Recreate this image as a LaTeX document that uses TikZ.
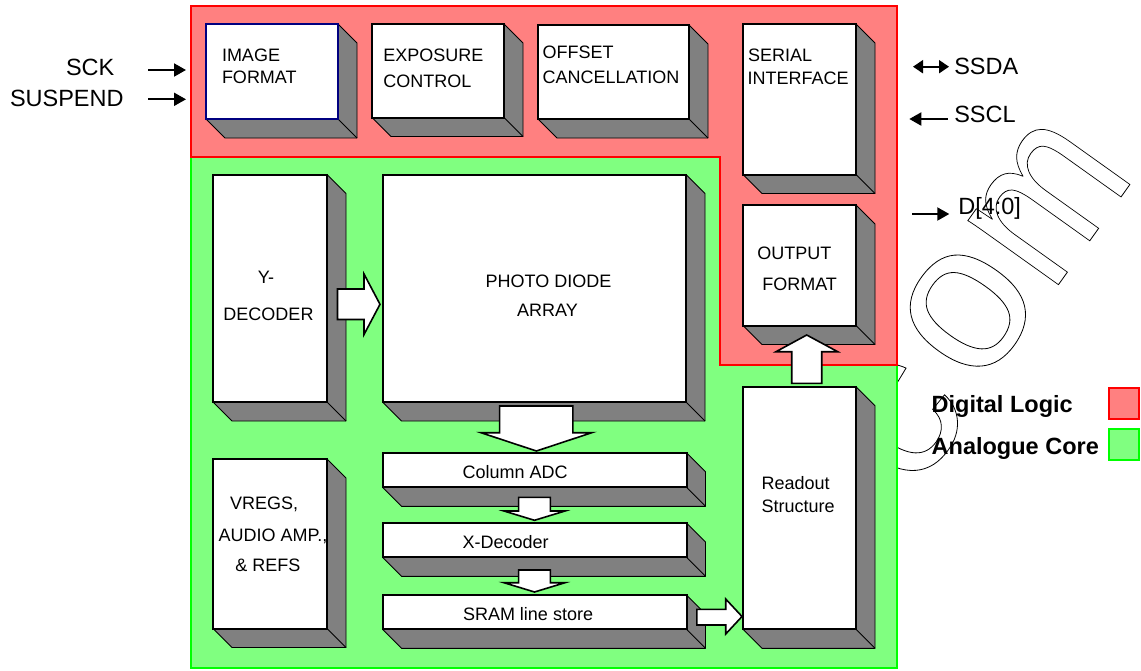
\documentclass[tikz,border=0pt]{standalone}
\usepackage{fontspec}
\setmainfont{Liberation Sans}
\usetikzlibrary{arrows.meta,calc}
\definecolor{dlred}{HTML}{FF8080}
\definecolor{dlredline}{HTML}{FF0000}
\definecolor{acgreen}{HTML}{80FF80}
\definecolor{acgreenline}{HTML}{00FF00}
\definecolor{sidegray}{HTML}{808080}
\definecolor{navyline}{HTML}{000080}
\newcommand\outl[1]{\special{pdf:literal direct 0.8 w 1 Tr}#1\special{pdf:literal direct 0 Tr}}
\tikzset{
  blk/.style={draw=black, fill=white, line width=2pt, outer sep=0pt, inner sep=0pt, rectangle},
  side/.style={fill=sidegray, draw=black, line width=0.9pt, line join=round},
  lbl/.style={anchor=base west, inner sep=0pt, outer sep=0pt, font=\fontsize{18}{20}\selectfont},
  lblc/.style={anchor=base, inner sep=0pt, outer sep=0pt, font=\fontsize{18}{20}\selectfont},
  sig/.style={anchor=base west, inner sep=0pt, outer sep=0pt, font=\fontsize{23.5}{26}\selectfont},
  leg/.style={anchor=base west, inner sep=0pt, outer sep=0pt, font=\fontsize{23.5}{26}\selectfont\bfseries},
  sigarrow/.style={line width=2pt, -{Triangle[length=12pt,width=13pt]}},
  sigdbl/.style={line width=2pt, {Triangle[length=10pt,width=13pt]}-{Triangle[length=10pt,width=13pt]}},
  barrow/.style={fill=white, draw=black, line width=1.6pt, line join=miter},
  region/.style={line width=2pt, line join=miter},
  wmark/.style={anchor=center, rotate=54.5, inner sep=0pt, outer sep=0pt, font=\fontsize{210}{210}\selectfont},
}
% #1 extra style, #2 name, #3 x1, #4 y1, #5 x2, #6 y2
\newcommand\mkblock[6][]{%
  \filldraw[side] (#5,#4) -- (#5+19,#4+19) -- (#5+19,#6+19) -- (#3+19,#6+19) -- (#3,#6) -- (#5,#6) -- cycle;
  \draw[side] (#5,#6) -- (#5+19,#6+19);
  \node[blk,#1,minimum width={(#5-#3)*1pt},minimum height={(#6-#4)*1pt}] (#2) at ({(#3+#5)/2},{(#4+#6)/2}) {};
}
\begin{document}
\begin{tikzpicture}[x=1pt,y=-1pt]
\useasboundingbox (0,0) rectangle (1141,670);

% watermark (lies beneath the coloured regions)
\node[wmark] (wm-c) at (899,420) {\outl{c}};
\node[wmark] (wm-o) at (968,311) {\outl{o}};
\node[wmark, xscale=0.84] (wm-m) at (1048,202) {\outl{m}};

% regions
\filldraw[region, fill=acgreen, draw=acgreenline] (191,157) -- (720,157) -- (720,365) -- (897,365) -- (897,668) -- (191,668) -- cycle;
\filldraw[region, fill=dlred, draw=dlredline] (191,6) -- (897,6) -- (897,365) -- (720,365) -- (720,157) -- (191,157) -- cycle;

% blocks
\mkblock[draw=navyline]{imgfmt}{206}{24}{338}{119}
\mkblock{expo}{372}{24}{504}{117.5}
\mkblock{offset}{538}{25}{689}{119}
\mkblock{serial}{743}{24}{856}{174.5}
\mkblock{outfmt}{743}{205}{856}{325.5}
\mkblock{ydec}{213}{174.5}{327}{402}
\mkblock{pda}{382.5}{174.5}{686}{402}
\mkblock{vregs}{213}{459}{327}{628.5}
\mkblock{coladc}{382.5}{452.7}{686.5}{487.3}
\mkblock{xdec}{382.5}{523}{686.5}{557.3}
\mkblock{sram}{382.5}{595}{686.5}{629.3}
\mkblock{readout}{743}{386.7}{856}{629.3}

% block texts
\node[lbl] (t-img1) at (222,61.7) {IMAGE};
\node[lbl] (t-img2) at (222,83.3) {FORMAT};
\node[lbl] (t-exp1) at (383.3,61) {EXPOSURE};
\node[lbl] (t-exp2) at (383.3,87.7) {CONTROL};
\node[lbl] (t-off1) at (542.7,58.3) {OFFSET};
\node[lbl] (t-off2) at (542.7,83.3) {CANCELLATION};
\node[lbl] (t-ser1) at (748,61) {SERIAL};
\node[lbl] (t-ser2) at (747.5,84) {INTERFACE};
\node[lbl] (t-out1) at (757.3,259) {OUTPUT};
\node[lbl] (t-out2) at (762.3,290) {FORMAT};
\node[lblc] (t-yd1) at (266,283) {Y-};
\node[lblc] (t-yd2) at (268.5,320.5) {DECODER};
\node[lblc] (t-pda1) at (548.5,287.3) {PHOTO DIODE};
\node[lblc] (t-pda2) at (547.5,316) {ARRAY};
\node[lbl] (t-vr1) at (230,509.3) {VREGS,};
\node[lbl] (t-vr2) at (218.6,541.7) {AUDIO AMP.,};
\node[lbl] (t-vr3) at (235.4,571.7) {\& REFS};
\node[lbl] (t-col) at (462.5,478) {Column ADC};
\node[lbl] (t-xd) at (462.5,548.5) {X-Decoder};
\node[lbl] (t-sram) at (463,620.5) {SRAM line store};
\node[lbl] (t-ro1) at (761.7,489) {Readout};
\node[lbl] (t-ro2) at (761.7,512.7) {Structure};

% block arrows
\draw[barrow] (337.5,289) -- (364,289) -- (364,274) -- (380,304.3) -- (364,334.5) -- (364,319.5) -- (337.5,319.5) -- cycle;
\draw[barrow] (499.6,406) -- (572.9,406) -- (572.9,432.7) -- (591.8,432.7) -- (536.4,451) -- (481,432.7) -- (499.6,432.7) -- cycle;
\draw[barrow] (518.6,497.3) -- (550.4,497.3) -- (550.4,511) -- (565,511) -- (534.5,520.3) -- (504,511) -- (518.6,511) -- cycle;
\draw[barrow] (518.6,570) -- (550.4,570) -- (550.4,582.7) -- (565,582.7) -- (534.5,592) -- (504,582.7) -- (518.6,582.7) -- cycle;
\draw[barrow] (696.8,609.3) -- (725.7,609.3) -- (725.7,599) -- (742,616.5) -- (725.7,634) -- (725.7,625) -- (696.8,625) -- cycle;
\draw[barrow] (791.7,383.3) -- (791.7,351.7) -- (776,351.7) -- (806.7,335) -- (837.7,351.7) -- (821.7,351.7) -- (821.7,383.3) -- cycle;

% external signals
\node[sig] (sck) at (66,75) {SCK};
\node[sig] (suspend) at (10,106) {SUSPEND};
\coordinate (sck-s) at (148,70);
\coordinate (sck-e) at (186,70);
\coordinate (sus-s) at (148,99.3);
\coordinate (sus-e) at (186,99.3);
\draw[sigarrow] (sck-s) -- (sck-e);
\draw[sigarrow] (sus-s) -- (sus-e);

\node[sig] (ssda) at (954.3,74) {SSDA};
\node[sig] (sscl) at (954.3,122.7) {SSCL};
\node[sig] (dout) at (958.3,214.3) {D[4:0]};
\coordinate (ssda-a) at (913,66.7);
\coordinate (ssda-b) at (949,66.7);
\coordinate (sscl-a) at (947.7,119);
\coordinate (sscl-b) at (909.3,119);
\coordinate (d-a) at (912,214);
\coordinate (d-b) at (949.3,214);
\draw[sigdbl] (ssda-a) -- (ssda-b);
\draw[sigarrow] (sscl-a) -- (sscl-b);
\draw[sigarrow] (d-a) -- (d-b);

% legend
\node[leg] (leg-dl) at (931.7,412.7) {Digital Logic};
\node[leg] (leg-ac) at (931.7,454) {Analogue Core};
\node[draw=dlredline, fill=dlred, line width=2pt, inner sep=0pt, outer sep=0pt, minimum width=30.5pt, minimum height=30.5pt] (sq-dl) at (1124,403.3) {};
\node[draw=acgreenline, fill=acgreen, line width=2pt, inner sep=0pt, outer sep=0pt, minimum width=30.5pt, minimum height=31pt] (sq-ac) at (1124,444.5) {};
\end{tikzpicture}
\end{document}
